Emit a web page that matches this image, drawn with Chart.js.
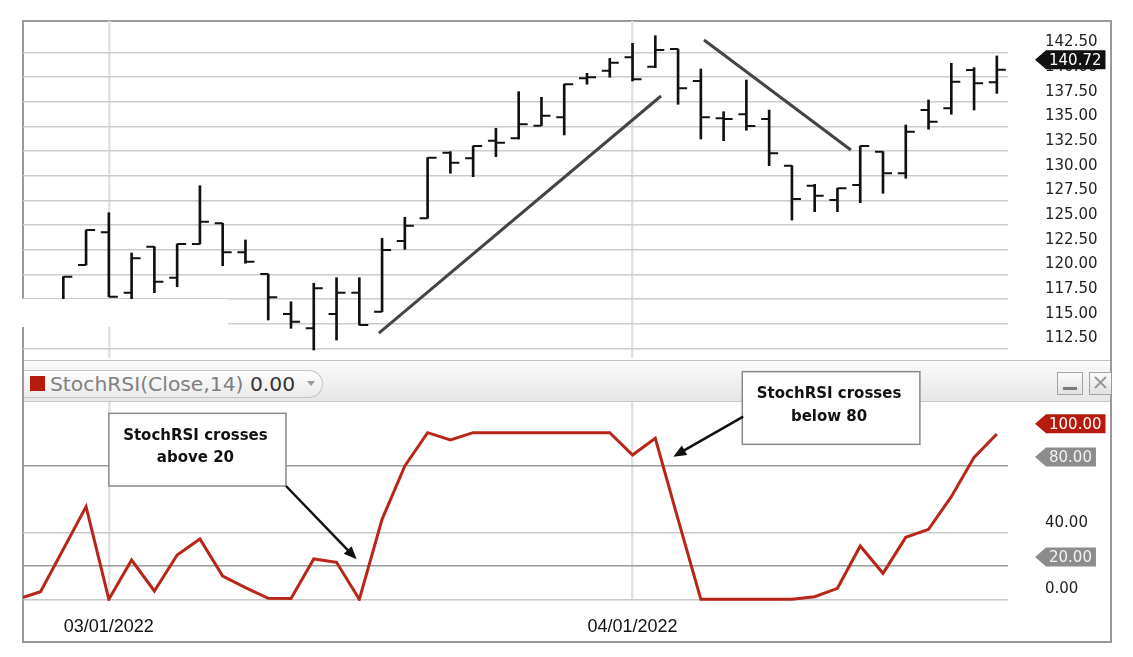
<!DOCTYPE html>
<html>
<head>
<meta charset="utf-8">
<script src="https://cdn.jsdelivr.net/npm/chart.js@4.4.1/dist/chart.umd.min.js"></script>
<style>
  body { margin: 0; background: #fff; }
  #wrap { position: relative; width: 1133px; height: 657px; overflow: hidden; background: #fff; }
  .abs { position: absolute; }
  #frame { left: 22px; top: 20px; width: 1090px; height: 623px; border: 2px solid #9a9a9a; box-sizing: border-box; }
  #band { left: 24px; top: 360px; width: 1086px; height: 42px; box-sizing: border-box;
    background: linear-gradient(#fafafa, #e6e6e6); border-top: 1px solid #c2c2c2; border-bottom: 1px solid #c8c8c8; }
  #pill { left: 24px; top: 370px; width: 299px; height: 28px; box-sizing: border-box;
    border: 1px solid #c4c4c4; border-left: none; border-radius: 0 14px 14px 0;
    background: linear-gradient(#fdfdfd, #ebebeb); }
  #sq { left: 30px; top: 376px; width: 15px; height: 15px; background: #b51c0c; }
  #title { left: 50px; top: 374px; font: 20.3px/20px "DejaVu Sans", sans-serif; color: #808080; white-space: nowrap; }
  #title b { font-weight: normal; color: #333; }
  #tri { left: 307px; top: 381px; width: 0; height: 0; border-left: 4.5px solid transparent;
    border-right: 4.5px solid transparent; border-top: 5px solid #9a9a9a; }
  .btn { top: 372px; height: 23px; box-sizing: border-box; border: 1.5px solid #a4a4a4;
    background: linear-gradient(#fbfbfb, #e2e2e2); }
  #minBtn { left: 1057px; width: 26px; }
  #minBtn div { position: absolute; left: 5px; top: 14px; width: 14px; height: 3px; background: #7a7a7a; }
  #closeBtn { left: 1089px; width: 22px; border-right: none; }
  canvas { position: absolute; }
  #price { left: 23px; top: 21px; }
  #stoch { left: 23px; top: 360px; }
  #cut { left: 0; top: 299px; width: 228px; height: 28px; background: #fff; }
</style>
</head>
<body>
<div id="wrap">
  <div id="frame" class="abs"></div>
  <div id="band" class="abs"></div>
  <div id="pill" class="abs"></div>
  <div id="sq" class="abs"></div>
  <div id="title" class="abs">StochRSI(Close,14) <b>0.00</b></div>
  <div id="tri" class="abs"></div>
  <div id="minBtn" class="abs btn"><div></div></div>
  <div id="closeBtn" class="abs btn">
    <svg width="20" height="20" style="position:absolute;left:2px;top:0"><path d="M3 4 L14 15 M14 4 L3 15" stroke="#9a9a9a" stroke-width="2"/></svg>
  </div>
  <canvas id="price" width="1087" height="337"></canvas>
  <canvas id="stoch" width="1087" height="281"></canvas>
  <div id="cut" class="abs"></div>
</div>
<script>
// trading days, index 0 sits just left of the visible range
const dates = ['02/23/2022','02/24/2022','02/25/2022','02/28/2022','03/01/2022','03/02/2022','03/03/2022','03/04/2022',
  '03/07/2022','03/08/2022','03/09/2022','03/10/2022','03/11/2022','03/14/2022','03/15/2022','03/16/2022','03/17/2022',
  '03/18/2022','03/21/2022','03/22/2022','03/23/2022','03/24/2022','03/25/2022','03/28/2022','03/29/2022','03/30/2022',
  '03/31/2022','04/01/2022','04/04/2022','04/05/2022','04/06/2022','04/07/2022','04/08/2022','04/11/2022','04/12/2022',
  '04/13/2022','04/14/2022','04/18/2022','04/19/2022','04/20/2022','04/21/2022','04/22/2022','04/25/2022','04/26/2022'];

const opens = [null,116.3,117.3,120.94,124.26,118.14,122.8,119.66,123.07,125.17,122.23,120.03,115.98,114.53,115.98,118.14,
  116.21,123.38,125.68,132.33,131.76,133.54,133.78,135.06,135.91,139.86,140.64,141.99,141.04,142.83,139.59,135.81,136.22,
  135.74,131.01,128.98,127.53,129.05,132.43,130.24,136.65,136.82,140.71,139.46];
const highs = [null,117.4,119.76,124.49,126.24,122.16,122.8,123.07,128.98,125.17,123.48,120.03,117.22,119.09,119.66,119.66,
  123.65,125.78,131.82,132.43,133.0,134.8,138.51,137.94,139.26,140.37,141.89,143.41,144.18,142.83,140.81,136.48,139.69,
  136.65,131.01,129.12,128.72,133.0,132.43,135.13,137.67,141.39,140.94,142.13];
const lows = [null,115.6,116.9,120.94,117.73,117.2,118.14,118.74,123.07,120.87,121.12,115.37,114.53,112.33,113.34,114.86,
  116.21,122.53,125.68,130.24,129.89,131.92,133.71,135.06,134.12,139.26,139.97,139.59,140.94,137.23,133.71,133.54,134.6,
  131.01,125.5,126.35,126.35,127.26,128.21,129.73,134.7,136.22,136.65,138.34];
const closes = [null,117.1,119.76,124.49,117.73,121.62,119.25,123.07,125.33,122.23,121.28,117.67,115.2,118.58,118.14,114.86,
  122.46,124.93,131.82,131.31,133.0,133.34,135.2,136.07,139.26,139.97,141.45,139.76,142.73,138.85,135.91,135.74,135.03,
  132.26,127.63,127.97,128.72,133.0,130.24,134.45,135.47,139.52,139.36,140.72];

const stochRsi = [0.2,4.6,30,55.6,0,23.6,5,26.6,36.2,14,7,0.6,0.5,24.2,22.2,0,48,80,100,95.6,100,100,100,100,100,100,100,
  86.6,96.6,48,0,0,0,0,0,1.6,6.6,32,15.6,37.2,42,61.6,85.2,99.2];

const priceTicks = [112.5,115,117.5,120,122.5,125,127.5,130,132.5,135,137.5,140,142.5];
const stochTicks = [0,20,40,80,100];
const stochLabels = [0,40];
const stochBadgeLevels = [100,80,20];

// hand-drawn trend lines, [index, price]
const trendUp = [[15.86,114.05],[28.25,138.07]];
const trendDown = [[30.14,143.75],[36.59,132.6]];

// callouts in the indicator pane: box corners and arrow, [index, value]
const notes = [
  { text: ['StochRSI crosses','above 20'], box: [4.0,111.6,11.78,68], arrow: [11.78,68,14.885,24] },
  { text: ['StochRSI crosses','below 80'], box: [31.82,136.6,39.62,93], arrow: [31.86,109.6,28.79,85.6] }
];

const X_MIN = 0.23, X_MAX = 43.49;
const monthStarts = dates.map((d, i) => d.slice(3,5) === '01' ? i : null).filter(v => v !== null);

Chart.defaults.font.family = '"DejaVu Sans", sans-serif';

function drawBadge(ctx, xTip, yc, text, bg, fg){
  ctx.save();
  ctx.font = '15px "DejaVu Sans"';
  const w = ctx.measureText(text).width;
  const left = xTip + 11, right = xTip + 14 + w + 4, h = 9.5;
  ctx.fillStyle = bg;
  ctx.beginPath();
  ctx.moveTo(xTip, yc); ctx.lineTo(left, yc - h); ctx.lineTo(right, yc - h);
  ctx.lineTo(right, yc + h); ctx.lineTo(left, yc + h); ctx.closePath();
  ctx.fill();
  ctx.fillStyle = fg; ctx.textBaseline = 'middle'; ctx.textAlign = 'left';
  ctx.fillText(text, xTip + 14, yc + 1);
  ctx.restore();
}

// the right axis keeps its labels away from the plot, but must not pad the plot vertically
function fixRightAxis(width){
  return s => { s.width = width; s.paddingTop = 0; s.paddingBottom = 0; };
}
function fixBottomAxis(height){
  return s => { s.height = height; s.paddingLeft = 0; s.paddingRight = 0; };
}

const ohlcTicks = {
  id: 'ohlcTicks',
  afterDatasetsDraw(chart){
    const { ctx, chartArea: a, scales: { x, y } } = chart;
    ctx.save();
    ctx.beginPath(); ctx.rect(a.left, a.top, a.width, a.height); ctx.clip();
    ctx.strokeStyle = '#111'; ctx.lineWidth = 2;
    ctx.beginPath();
    opens.forEach((o, i) => {
      if(o == null) return;
      const px = x.getPixelForValue(i);
      const yo = y.getPixelForValue(o), yc = y.getPixelForValue(closes[i]);
      ctx.moveTo(px - 8, yo); ctx.lineTo(px, yo);
      ctx.moveTo(px, yc); ctx.lineTo(px + 9, yc);
    });
    ctx.stroke();
    ctx.restore();
  },
  afterDraw(chart){
    const last = closes[closes.length - 1];
    drawBadge(chart.ctx, chart.chartArea.right + 27, chart.scales.y.getPixelForValue(last) - 10, last.toFixed(2), '#111', '#fff');
  }
};

const stochExtras = {
  id: 'stochExtras',
  afterDraw(chart){
    const { ctx, scales: { x, y } } = chart;
    stochBadgeLevels.forEach(v => {
      drawBadge(ctx, chart.chartArea.right + 27, y.getPixelForValue(v) - 9, v.toFixed(2),
        v === 100 ? '#b51a0c' : '#8c8c8c', v === 100 ? '#fff' : '#f2f2f2');
    });
    notes.forEach(n => {
      const x1 = x.getPixelForValue(n.box[0]), y1 = y.getPixelForValue(n.box[1]);
      const x2 = x.getPixelForValue(n.box[2]), y2 = y.getPixelForValue(n.box[3]);
      ctx.save();
      ctx.fillStyle = '#fff'; ctx.strokeStyle = '#8a8a8a'; ctx.lineWidth = 1.5;
      ctx.fillRect(x1, y1, x2 - x1, y2 - y1);
      ctx.strokeRect(x1, y1, x2 - x1, y2 - y1);
      ctx.fillStyle = '#111'; ctx.font = 'bold 15px "DejaVu Sans"';
      ctx.textAlign = 'center'; ctx.textBaseline = 'alphabetic';
      const cx = (x1 + x2) / 2 - 2;
      ctx.fillText(n.text[0], cx, y1 + 26.5);
      ctx.fillText(n.text[1], cx, y1 + 49);
      // arrow
      const ax = x.getPixelForValue(n.arrow[0]), ay = y.getPixelForValue(n.arrow[1]);
      const bx = x.getPixelForValue(n.arrow[2]), by = y.getPixelForValue(n.arrow[3]);
      const ang = Math.atan2(by - ay, bx - ax);
      ctx.strokeStyle = '#111'; ctx.lineWidth = 2.5;
      ctx.beginPath(); ctx.moveTo(ax, ay);
      ctx.lineTo(bx - 10 * Math.cos(ang), by - 10 * Math.sin(ang)); ctx.stroke();
      ctx.beginPath();
      ctx.moveTo(bx, by);
      ctx.lineTo(bx - 13 * Math.cos(ang) + 5.5 * Math.sin(ang), by - 13 * Math.sin(ang) - 5.5 * Math.cos(ang));
      ctx.lineTo(bx - 13 * Math.cos(ang) - 5.5 * Math.sin(ang), by - 13 * Math.sin(ang) + 5.5 * Math.cos(ang));
      ctx.closePath(); ctx.fill();
      ctx.restore();
    });
  }
};

const xCommon = {
  type: 'linear', min: X_MIN, max: X_MAX, offset: false,
  afterBuildTicks: s => { s.ticks = monthStarts.map(v => ({ value: v })); },
  grid: { color: '#e2e2e2', lineWidth: 2.5, drawTicks: false, offset: false },
  border: { display: false }
};

const bars = highs.map((h, i) => h == null ? null : { x: i, y: [lows[i], h] }).filter(Boolean);

new Chart(document.getElementById('price'), {
  type: 'bar',
  data: {
    datasets: [
      { type: 'line', data: trendUp.map(p => ({ x: p[0], y: p[1] })), borderColor: '#444', borderWidth: 3, pointRadius: 0 },
      { type: 'line', data: trendDown.map(p => ({ x: p[0], y: p[1] })), borderColor: '#444', borderWidth: 3, pointRadius: 0 },
      { type: 'bar', data: bars, backgroundColor: '#111', borderWidth: 0, barThickness: 2 }
    ]
  },
  options: {
    responsive: false, animation: false, devicePixelRatio: 1,
    layout: { padding: 0 },
    plugins: { legend: { display: false }, tooltip: { enabled: false } },
    scales: {
      x: Object.assign({}, xCommon, { ticks: { display: false }, afterFit: fixBottomAxis(0) }),
      y: {
        position: 'right', min: 111.52, max: 145.67,
        afterBuildTicks: s => { s.ticks = priceTicks.map(v => ({ value: v })); },
        afterFit: fixRightAxis(102),
        ticks: { padding: 37, labelOffset: -10, color: '#222', font: { size: 15 }, callback: v => v.toFixed(2) },
        grid: { color: '#cccccc', lineWidth: 1.5, drawTicks: false },
        border: { display: false }
      }
    }
  },
  plugins: [ohlcTicks]
});

new Chart(document.getElementById('stoch'), {
  type: 'line',
  data: {
    datasets: [{
      data: stochRsi.map((v, i) => ({ x: i, y: v })),
      borderColor: '#b8261a', borderWidth: 3, pointRadius: 0, tension: 0
    }]
  },
  options: {
    responsive: false, animation: false, devicePixelRatio: 1,
    layout: { padding: { top: 42 } },
    plugins: { legend: { display: false }, tooltip: { enabled: false } },
    scales: {
      x: Object.assign({}, xCommon, {
        afterFit: fixBottomAxis(40),
        ticks: { padding: 15, maxRotation: 0, autoSkip: false, color: '#111',
          font: { family: '"Liberation Sans", Arial, sans-serif', size: 18 },
          callback: v => dates[v] || '' }
      }),
      y: {
        position: 'right', min: -1, max: 118.4,
        afterBuildTicks: s => { s.ticks = stochTicks.map(v => ({ value: v })); },
        afterFit: fixRightAxis(102),
        ticks: { padding: 37, labelOffset: -10, color: '#222', font: { size: 15 },
          callback: v => stochLabels.includes(v) ? v.toFixed(2) : '' },
        grid: {
          lineWidth: 1.5, drawTicks: false,
          color: c => {
            const v = c.tick ? c.tick.value : null;
            if(v === 100) return 'rgba(0,0,0,0)';
            return (v === 20 || v === 80) ? '#9a9a9a' : '#c8c8c8';
          }
        },
        border: { display: false }
      }
    }
  },
  plugins: [stochExtras]
});
</script>
</body>
</html>
